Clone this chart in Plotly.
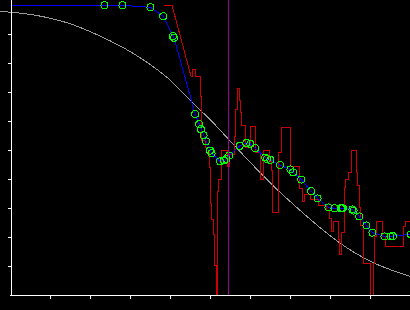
import plotly.graph_objects as go

# ---- data (x: 0..10, y: 0..10 units) ----
x_ticks = [1, 2, 3, 4, 5, 6, 7, 8, 9]
y_ticks = [1, 2, 3, 4, 5, 6, 7, 8, 9]

# smooth reference curve (gray)
gray_x = [-0.25, 0.58, 1.42, 2.25, 3.08, 3.92, 4.58, 5.05, 5.83, 6.70, 8.21, 9.04, 10.0]
gray_y = [9.78, 9.66, 9.39, 8.93, 8.33, 7.51, 6.61, 5.98, 4.83, 3.61, 1.83, 1.14, 0.64]

# measured signal (red), vertices
red_pts = [
    (3.85, 9.99), (4.05, 9.99), (4.53, 7.52), (4.56, 7.52), (4.56, 7.76), (4.63, 7.76),
    (4.63, 7.52), (4.75, 7.52), (4.75, 6.83), (4.78, 6.83), (4.78, 5.34), (4.88, 5.34),
    (4.88, 5.07), (4.99, 5.07), (4.99, 4.38), (5.02, 4.38), (5.02, 3.17), (5.04, 3.17),
    (5.04, 2.59), (5.08, 2.59), (5.08, 2.07), (5.12, 2.07), (5.12, 1.03), (5.15, 1.03),
    (5.15, 0.0), (5.18, 0.0), (5.18, 3.56), (5.22, 3.56), (5.22, 3.97), (5.28, 3.97),
    (5.28, 5.00), (5.43, 5.00), (5.43, 4.42), (5.48, 4.42), (5.48, 4.83), (5.60, 4.83),
    (5.60, 5.45), (5.64, 5.45), (5.64, 6.38), (5.68, 6.38), (5.68, 7.13), (5.73, 7.13),
    (5.73, 6.72), (5.77, 6.72), (5.77, 6.28), (5.79, 6.28), (5.79, 5.86), (5.88, 5.86),
    (5.88, 5.10), (6.00, 5.10), (6.00, 5.80), (6.13, 5.80), (6.13, 4.90), (6.25, 4.90),
    (6.25, 3.97), (6.33, 3.97), (6.33, 4.98), (6.48, 4.98), (6.48, 4.60), (6.53, 4.60),
    (6.53, 4.31), (6.57, 4.31), (6.57, 2.83), (6.71, 2.83), (6.71, 4.90), (6.79, 4.90),
    (6.79, 5.76), (7.00, 5.76),
    (7.00, 4.42), (7.24, 4.42), (7.24, 3.68), (7.30, 3.68), (7.30, 3.22), (7.37, 3.22),
    (7.37, 3.45), (7.50, 3.45), (7.50, 3.28), (7.70, 3.28), (7.70, 3.10), (7.90, 3.10),
    (7.90, 2.93), (7.99, 2.93), (7.99, 2.64), (8.03, 2.64), (8.03, 2.18), (8.08, 2.18),
    (8.08, 2.53), (8.21, 2.53), (8.21, 1.90), (8.24, 1.90), (8.24, 1.38), (8.28, 1.38),
    (8.28, 2.14), (8.36, 2.14), (8.36, 3.69), (8.38, 3.69), (8.38, 3.97), (8.47, 3.97),
    (8.47, 4.21), (8.53, 4.21), (8.53, 5.00), (8.65, 5.00), (8.65, 4.21), (8.69, 4.21),
    (8.69, 3.79), (8.73, 3.79), (8.73, 3.03), (8.76, 3.03), (8.76, 2.41), (8.83, 2.41),
    (8.83, 1.09), (9.01, 1.09), (9.01, 0.0), (9.09, 0.0), (9.09, 1.09), (9.12, 1.09),
    (9.12, 2.01), (9.16, 2.01), (9.16, 2.53), (9.30, 2.53), (9.30, 2.01), (9.38, 2.01),
    (9.38, 1.67), (9.83, 1.67), (9.83, 2.36), (9.88, 2.36), (9.88, 2.53), (10.05, 2.53),
]
red_x = [p[0] for p in red_pts]
red_y = [p[1] for p in red_pts]

# model points (green circles, joined by blue line)
circ_x = [2.36, 2.81, 3.51, 3.83, 4.07, 4.10, 4.63, 4.73, 4.77, 4.84, 4.90,
          5.00, 5.04, 5.25, 5.35, 5.41, 5.48, 5.74, 5.91, 6.01, 6.13,
          6.38, 6.43, 6.51, 6.75, 7.01, 7.08, 7.28, 7.53, 7.69,
          7.96, 8.11, 8.27, 8.30, 8.32, 8.56, 8.59, 8.73, 8.91, 9.06,
          9.36, 9.51, 9.57, 10.02]
circ_y = [9.99, 9.99, 9.92, 9.61, 8.93, 8.87, 6.24, 5.89, 5.72, 5.51, 5.30,
          4.98, 4.89, 4.61, 4.64, 4.69, 4.81, 5.14, 5.24, 5.21, 5.06,
          4.74, 4.69, 4.66, 4.48, 4.33, 4.23, 3.98, 3.58, 3.33,
          3.02, 2.99, 2.99, 2.99, 2.99, 2.95, 2.91, 2.71, 2.40, 2.15,
          2.02, 2.02, 2.03, 2.09]
line_start = [0.0, 9.99]
line_end = [10.1, 2.12]

cut_x = 5.46

# ---- figure ----
fig = go.Figure()
fig.add_trace(go.Scatter(x=gray_x, y=gray_y, mode="lines",
                         line=dict(color="#9a9a9a", width=1, shape="spline"), hoverinfo="skip"))
fig.add_trace(go.Scatter(x=red_x, y=red_y, mode="lines",
                         line=dict(color="#cc0000", width=1), hoverinfo="skip"))
fig.add_trace(go.Scatter(x=[line_start[0]] + circ_x + [line_end[0]],
                         y=[line_start[1]] + circ_y + [line_end[1]], mode="lines",
                         line=dict(color="#0000ff", width=1), hoverinfo="skip"))
fig.add_trace(go.Scatter(x=circ_x, y=circ_y, mode="markers",
                         marker=dict(symbol="circle-open", size=7, color="#00ff00",
                                     line=dict(width=1, color="#00ff00")), hoverinfo="skip"))
fig.add_vline(x=cut_x, line=dict(color="#990099", width=1))

# bottom axis line starting at the y axis
fig.add_shape(type="line", xref="paper", yref="paper", x0=10 / 410, x1=1,
              y0=-0.5 / 295, y1=-0.5 / 295, line=dict(color="white", width=1))

fig.update_layout(
    width=410, height=310,
    margin=dict(l=0, r=0, t=0, b=15),
    paper_bgcolor="black", plot_bgcolor="black",
    showlegend=False,
    xaxis=dict(range=[-0.25, 10], tickvals=x_ticks, ticks="outside", ticklen=3,
               tickwidth=1, tickcolor="white", showticklabels=False, showgrid=False,
               zeroline=False, showline=False),
    yaxis=dict(range=[0, 295 / 29], anchor="free", position=11 / 410,
               tickvals=y_ticks, ticks="outside", ticklen=3, tickwidth=1,
               tickcolor="white", showticklabels=False, showgrid=False,
               zeroline=False, showline=True, linecolor="white", linewidth=1),
)

crisp = ("document.querySelectorAll('.main-svg').forEach(function(s){"
         "s.style.shapeRendering='crispEdges';});")
fig.write_html("out.html", post_script=crisp)
